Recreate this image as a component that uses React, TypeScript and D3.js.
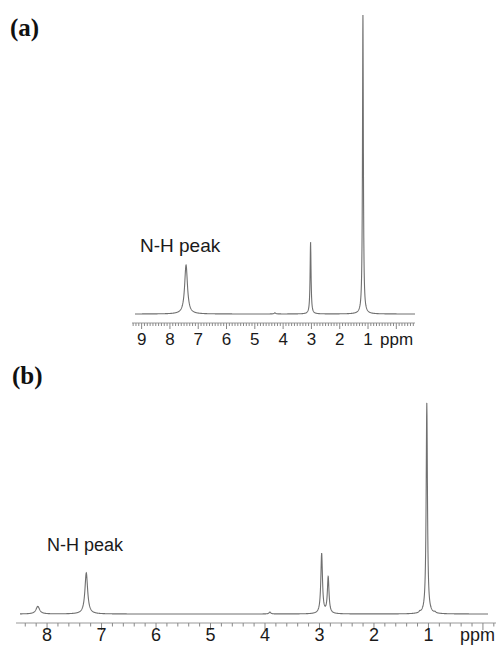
import * as d3 from "d3";

// panel (a) peaks: chemical shift (ppm), relative height, half width (ppm)
const peaksAShift = [7.43, 4.29, 3.03, 1.18];
const peaksAHeight = [16.4, 0.4, 24, 100];
const peaksAWidth = [0.06, 0.03, 0.02, 0.018];
const ticksA = [9, 8, 7, 6, 5, 4, 3, 2, 1];

// panel (b) peaks
const peaksBShift = [8.17, 7.28, 3.91, 2.96, 2.84, 1.16, 1.03, 0.88];
const peaksBHeight = [3.6, 19.5, 0.9, 28.5, 17.2, 0.5, 100, 0.5];
const peaksBWidth = [0.04, 0.03, 0.02, 0.018, 0.018, 0.015, 0.014, 0.015];
const ticksB = [8, 7, 6, 5, 4, 3, 2, 1];

const LABEL_FONT = "'Liberation Sans', Arial, sans-serif";
const TITLE_FONT = "'Liberation Serif', 'Times New Roman', serif";

type Peak = { shift: number; height: number; width: number };

function toPeaks(s: number[], h: number[], w: number[]): Peak[] {
  return s.map((d, i) => ({ shift: d, height: h[i], width: w[i] }));
}

// Lorentzian line shape summed over the peak list
function intensity(ppm: number, peaks: Peak[]) {
  let v = 0;
  for (const p of peaks) {
    const t = (ppm - p.shift) / p.width;
    v += p.height / (1 + t * t);
  }
  return v;
}

function Spectrum({
  peaks, ticks, xRange, domain, baseY, topY, axisY, lineRange,
  minor, tickSize, fontSize, labelY, ppmX,
}: {
  peaks: Peak[]; ticks: number[]; xRange: [number, number]; domain: [number, number];
  baseY: number; topY: number; axisY: number; lineRange: [number, number];
  minor: number; tickSize: number; fontSize: number; labelY: number; ppmX: number;
}) {
  const x = d3.scaleLinear().domain(domain).range(xRange);
  const y = d3.scaleLinear().domain([0, 100]).range([baseY, topY]);

  const xs: number[] = [];
  for (let px = lineRange[0]; px <= lineRange[1]; px += 0.2) xs.push(x.invert(px));
  peaks.forEach(p => xs.push(p.shift));
  xs.sort((a, b) => b - a);

  const line = d3.line<number>()
    .x(d => x(d))
    .y(d => y(intensity(d, peaks)));

  const minorTicks = d3.range(
    Math.ceil(domain[1] / minor), Math.floor(domain[0] / minor) + 1
  ).map(k => k * minor);

  return (
    <g>
      <line x1={xRange[0]} x2={xRange[1]} y1={axisY} y2={axisY} stroke="#999" strokeWidth={1} />
      {minorTicks.map((t, i) => {
        const major = Math.abs(t - Math.round(t)) < 1e-6;
        return (
          <line key={i} x1={x(t)} x2={x(t)} y1={axisY} y2={axisY + (major ? tickSize * 2 : tickSize)}
            stroke="#888" strokeWidth={1} />
        );
      })}
      {ticks.map(t => (
        <text key={t} x={x(t)} y={labelY} textAnchor="middle" fontSize={fontSize}
          fontFamily={LABEL_FONT} fill="#1a1a1a">{t}</text>
      ))}
      <text x={ppmX} y={labelY} fontSize={fontSize} fontFamily={LABEL_FONT} fill="#1a1a1a">ppm</text>
      <path d={line(xs) ?? ""} fill="none" stroke="#707070" strokeWidth={1.1} />
    </g>
  );
}

export default function App() {
  const peaksA = toPeaks(peaksAShift, peaksAHeight, peaksAWidth);
  const peaksB = toPeaks(peaksBShift, peaksBHeight, peaksBWidth);

  return (
    <div style={{ position: "absolute", left: 0, top: 0, width: 501, height: 646, background: "#fff" }}>
      <svg width={501} height={646} style={{ display: "block" }}>
        <rect width={501} height={646} fill="#fff" />
        <text x={10} y={36} fontSize={25} fontWeight="bold" fontFamily={TITLE_FONT} fill="#111">(a)</text>
        <text x={12} y={384} fontSize={25} fontWeight="bold" fontFamily={TITLE_FONT} fill="#111">(b)</text>

        <Spectrum
          peaks={peaksA} ticks={ticksA}
          xRange={[132, 415]} domain={[9.34, -0.66]}
          baseY={314} topY={15} axisY={323} lineRange={[135, 415]}
          minor={0.1} tickSize={3} fontSize={17} labelY={345} ppmX={380}
        />
        <text x={140} y={252} fontSize={19} fontFamily={LABEL_FONT} fill="#1a1a1a">N-H peak</text>

        <Spectrum
          peaks={peaksB} ticks={ticksB}
          xRange={[16, 496]} domain={[8.57, -0.24]}
          baseY={614} topY={403} axisY={623} lineRange={[20, 488]}
          minor={0.2} tickSize={3.5} fontSize={18} labelY={641} ppmX={460}
        />
        <text x={47} y={551} fontSize={18} fontFamily={LABEL_FONT} fill="#1a1a1a">N-H peak</text>
      </svg>
    </div>
  );
}
